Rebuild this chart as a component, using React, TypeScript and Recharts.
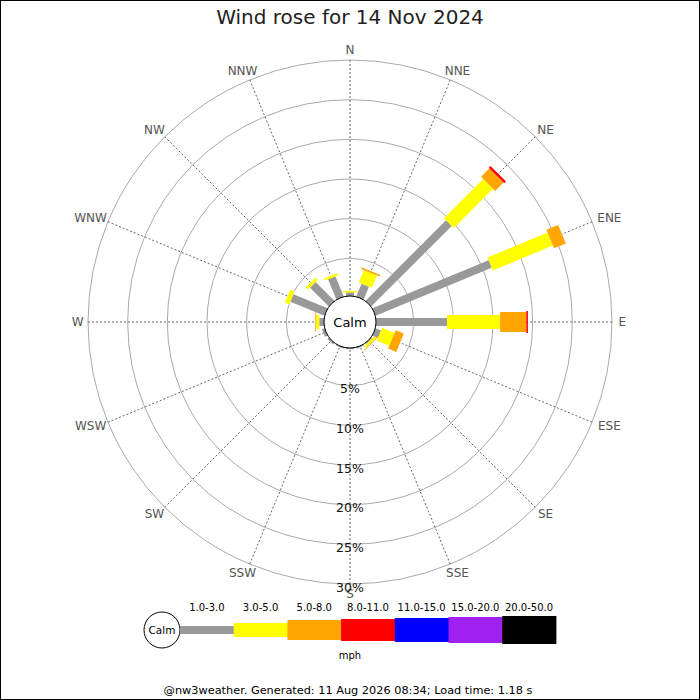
import React from 'react';
import { RadialBarChart, RadialBar, PolarGrid, PolarAngleAxis, PolarRadiusAxis } from 'recharts';

const directions = ['N', 'NNE', 'NE', 'ENE', 'E', 'ESE', 'SE', 'SSE', 'S', 'SSW', 'SW', 'WSW', 'W', 'WNW', 'NW', 'NNW'];

// percent of time per direction, one array per speed band (mph)
const speed1to3 = [0.7, 2.0, 14.6, 16.1, 9.2, 1.0, 0.4, 0.4, 0.4, 0.4, 0.5, 0.6, 0.85, 4.9, 3.6, 3.0];
const speed3to5 = [0.2, 1.7, 7.0, 8.2, 6.7, 1.7, 0.3, 0, 0, 0, 0, 0, 0.4, 0.6, 0.4, 0.3];
const speed5to8 = [0, 0.2, 1.5, 1.6, 3.3, 1.1, 0.1, 0, 0, 0, 0, 0, 0.1, 0, 0, 0];
const speed8to11 = [0, 0, 0.3, 0, 0.2, 0, 0, 0, 0, 0, 0, 0, 0, 0, 0, 0];
const speed11to15 = [0, 0, 0, 0, 0, 0, 0, 0, 0, 0, 0, 0, 0, 0, 0, 0];
const speed15to20 = [0, 0, 0, 0, 0, 0, 0, 0, 0, 0, 0, 0, 0, 0, 0, 0];
const speed20to50 = [0, 0, 0, 0, 0, 0, 0, 0, 0, 0, 0, 0, 0, 0, 0, 0];

const bandLabels = ['1.0-3.0', '3.0-5.0', '5.0-8.0', '8.0-11.0', '11.0-15.0', '15.0-20.0', '20.0-50.0'];
const bandColors = ['#999999', '#ffff00', '#ffa500', '#ff0000', '#0000ff', '#a020f0', '#000000'];
const bandWidths = [8, 14, 20, 22, 24, 26, 28];
const bandSeries = [speed1to3, speed3to5, speed5to8, speed8to11, speed11to15, speed15to20, speed20to50];

const radiusTicks = [5, 10, 15, 20, 25, 30];

const data = directions.map((dir, i) => {
  const row: Record<string, string | number> = { dir };
  bandSeries.forEach((s, b) => {
    row['b' + b] = s[i];
  });
  return row;
});

const CX = 350;
const CY = 322;
const FONT = '"DejaVu Sans", Verdana, sans-serif';
const RAD = Math.PI / 180;

const polar = (cx: number, cy: number, r: number, a: number) => ({
  x: cx + r * Math.cos(-a * RAD),
  y: cy + r * Math.sin(-a * RAD),
});

// sectors fill the whole angle band (no gap), so the band's start angle is the
// category's own angle; draw each one as a straight bar along that angle
const spoke = (color: string, width: number) => (props: any) => {
  const { cx, cy, innerRadius, outerRadius, startAngle } = props;
  if (!(outerRadius - innerRadius > 0.05)) return <g />;
  const p1 = polar(cx, cy, innerRadius, startAngle);
  const p2 = polar(cx, cy, outerRadius, startAngle);
  return <line x1={p1.x} y1={p1.y} x2={p2.x} y2={p2.y} stroke={color} strokeWidth={width} />;
};

const DirTick = (props: any) => {
  const { x, y, payload } = props;
  const a = payload.coordinate * RAD;
  const w = String(payload.value).length * 8.5;
  return (
    <text
      x={x + Math.cos(a) * (w / 2 + 2)}
      y={y - Math.sin(a) * 6}
      textAnchor="middle"
      dominantBaseline="central"
      fontSize={12}
      fontFamily={FONT}
      fill="#555"
    >
      {payload.value}
    </text>
  );
};

const PctTick = (props: any) => {
  const { x, y, payload } = props;
  return (
    <text x={x} y={y + 3} textAnchor="middle" dominantBaseline="central" fontSize={12.5} fontFamily={FONT} fill="#111">
      {payload.value}%
    </text>
  );
};

export default function App() {
  const legendX0 = 180;
  const legendStep = 53.7;
  return (
    <div style={{ position: 'fixed', left: 0, top: 0, width: 700, height: 700, background: '#fff' }}>
      <RadialBarChart
        width={700}
        height={700}
        data={data}
        layout="centric"
        cx={CX}
        cy={CY}
        innerRadius={24}
        outerRadius={262}
        startAngle={90}
        endAngle={-270}
        margin={{ top: 0, right: 0, bottom: 0, left: 0 }}
        barCategoryGap={0}
      >
        <PolarGrid gridType="circle" radialLines={false} stroke="#aaa" />
        <PolarGrid gridType="circle" polarRadius={[]} stroke="#666" strokeDasharray="2 2" />
        <PolarAngleAxis type="category" dataKey="dir" tickSize={4} tickLine={false} axisLine={false} tick={DirTick} />
        <PolarRadiusAxis
          type="number"
          domain={[0, 30]}
          ticks={radiusTicks}
          angle={-90}
          axisLine={false}
          tickLine={false}
          tick={PctTick}
        />
        {bandSeries.map((_, b) => (
          <RadialBar
            key={b}
            dataKey={'b' + b}
            stackId="wind"
            fill={bandColors[b]}
            shape={spoke(bandColors[b], bandWidths[b])}
            isAnimationActive={false}
          />
        ))}
      </RadialBarChart>
      <svg width={700} height={700} style={{ position: 'absolute', left: 0, top: 0, pointerEvents: 'none' }}>
        <rect x={0.5} y={0.5} width={699} height={699} fill="none" stroke="#000" />
        <text x={350} y={17} textAnchor="middle" dominantBaseline="central" fontSize={20} fontFamily={FONT} fill="#222">
          Wind rose for 14 Nov 2024
        </text>
        <circle cx={CX} cy={CY} r={26} fill="#fff" stroke="#000" />
        <text x={CX} y={CY} textAnchor="middle" dominantBaseline="central" fontSize={13} fontFamily={FONT} fill="#000">
          Calm
        </text>
        <circle cx={162} cy={630} r={18} fill="#fff" stroke="#000" />
        <text x={162} y={630} textAnchor="middle" dominantBaseline="central" fontSize={10.5} fontFamily={FONT} fill="#000">
          Calm
        </text>
        {bandLabels.map((lab, b) => (
          <g key={lab}>
            <rect
              x={legendX0 + b * legendStep}
              y={630 - bandWidths[b] / 2}
              width={legendStep + 0.5}
              height={bandWidths[b]}
              fill={bandColors[b]}
            />
            <text
              x={legendX0 + (b + 0.5) * legendStep}
              y={607}
              textAnchor="middle"
              dominantBaseline="central"
              fontSize={10}
              fontFamily={FONT}
              fill="#000"
            >
              {lab}
            </text>
          </g>
        ))}
        <text x={350} y={655} textAnchor="middle" dominantBaseline="central" fontSize={10} fontFamily={FONT} fill="#000">
          mph
        </text>
        <text x={348} y={690} textAnchor="middle" dominantBaseline="central" fontSize={11.3} fontFamily={FONT} fill="#000">
          @nw3weather. Generated: 11 Aug 2026 08:34; Load time: 1.18 s
        </text>
      </svg>
    </div>
  );
}
